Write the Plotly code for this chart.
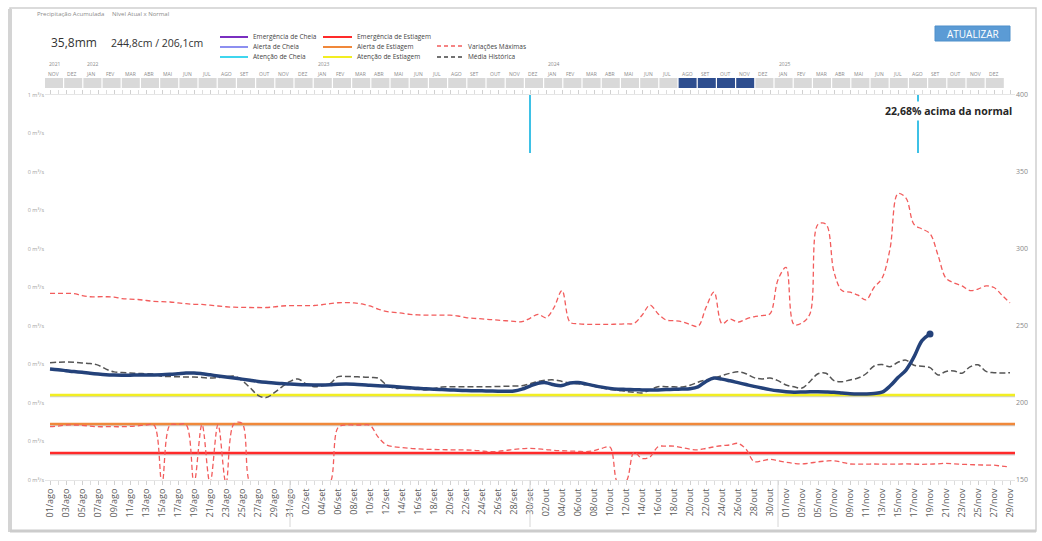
import pandas as pd
import plotly.graph_objects as go

# ---------------- data ----------------
dates = pd.date_range("2024-08-01", "2024-11-29", freq="D")
MESES = ["jan", "fev", "mar", "abr", "mai", "jun", "jul", "ago", "set", "out", "nov", "dez"]
MESES_UP = ["JAN", "FEV", "MAR", "ABR", "MAI", "JUN", "JUL", "AGO", "SET", "OUT", "NOV", "DEZ"]

# Nível do rio (cm) - linha azul
nivel = [222.1, 221.6, 221.0, 220.4, 219.9, 219.3, 218.8, 218.4, 218.2, 218.1,
         218.1, 218.2, 218.2, 218.2, 218.3, 218.6, 219.0, 219.4, 219.5, 219.0,
         218.3, 217.6, 216.9, 216.2, 215.5, 214.8, 214.0, 213.4, 213.0, 212.6,
         212.3, 212.0, 211.8, 211.7, 211.7, 211.9, 212.2, 212.3, 212.2, 211.9,
         211.5, 211.2, 211.0, 210.7, 210.3, 209.9, 209.5, 209.2, 208.9, 208.7,
         208.5, 208.3, 208.1, 208.0, 207.9, 207.8, 207.7, 207.7, 207.8, 209.0,
         211.0, 212.8, 213.2, 211.8, 211.3, 213.0, 213.3, 212.4, 211.3, 210.3,
         209.5, 209.0, 208.8, 208.6, 208.5, 208.4, 208.5, 208.7, 208.9, 209.1,
         209.3, 210.5, 214.0, 216.2, 215.5, 214.4, 213.2, 212.0, 210.8, 209.7,
         208.7, 207.9, 207.3, 207.0, 207.1, 207.3, 207.3, 207.2, 207.0, 206.5,
         206.0, 205.8, 205.9, 206.2, 207.0, 211.0, 216.5, 221.4, 229.9, 240.5,
         244.8]

# Média Histórica (cm)
media_historica = [226.2, 226.5, 226.6, 226.4, 226.0, 225.6, 224.6, 222.0, 220.2, 219.8,
                   219.5, 219.2, 219.0, 218.8, 217.3, 217.2, 217.0, 216.9, 216.9, 216.6,
                   216.2, 216.5, 217.0, 217.5, 214.5, 210.0, 205.0, 203.5, 206.5, 210.5,
                   214.0, 215.6, 212.5, 210.6, 211.2, 212.5, 217.1, 217.2, 217.1, 216.9,
                   216.6, 216.2, 212.0, 209.7, 209.5, 209.2, 208.8, 208.5, 209.4, 210.4,
                   210.6, 210.6, 210.6, 210.5, 210.5, 210.6, 210.7, 210.9, 211.0, 211.2,
                   212.5, 214.0, 214.8, 215.0, 214.0, 213.0, 212.5, 211.8, 210.8, 209.8,
                   208.8, 208.2, 207.5, 207.0, 206.5, 208.5, 210.6, 210.6, 210.5, 210.4,
                   211.5, 213.5, 215.0, 216.3, 217.8, 219.3, 220.3, 219.0, 216.5, 215.6,
                   216.2, 214.5, 211.7, 210.5, 209.7, 214.0, 219.0, 219.3, 214.5, 213.8,
                   215.0, 216.2, 219.0, 224.0, 225.0, 223.6, 226.5, 227.8, 224.5, 223.8,
                   223.0, 218.2, 220.5, 220.8, 219.3, 223.5, 224.8, 220.5, 219.7, 219.5,
                   219.7]

# Variações Máximas (cm) - envelope superior
variacao_sup = [271.2, 271.2, 271.2, 271.0, 269.8, 269.0, 269.0, 269.0, 268.8, 267.8,
                267.5, 267.2, 266.6, 266.0, 265.8, 265.6, 265.0, 264.5, 264.1, 264.0,
                263.5, 263.0, 262.5, 262.2, 262.1, 262.0, 262.0, 262.0, 262.4, 263.0,
                263.2, 263.2, 263.2, 263.3, 263.8, 264.5, 265.1, 265.2, 265.0, 264.3,
                263.0, 261.0, 259.5, 258.9, 258.3, 257.6, 257.2, 257.1, 257.1, 257.1,
                257.0, 256.5, 255.5, 255.0, 254.6, 254.2, 253.8, 253.4, 253.0, 252.8,
                255.0, 257.6, 255.4, 262.0, 273.0, 252.5, 251.5, 251.1, 251.1, 251.1,
                251.1, 251.2, 251.4, 251.7, 257.0, 263.6, 258.0, 253.9, 253.5, 252.8,
                251.0, 249.8, 262.0, 272.0, 251.5, 254.5, 252.5, 254.5, 256.0, 256.8,
                258.0, 280.0, 288.0, 251.0, 252.0, 258.0, 316.0, 316.0, 285.0, 273.0,
                272.0, 270.0, 267.0, 275.0, 281.0, 300.0, 336.0, 333.0, 316.0, 313.0,
                310.0, 296.0, 281.0, 278.0, 276.0, 273.0, 274.0, 276.0, 275.0, 270.0,
                265.0]

# Variações Máximas (cm) - envelope inferior
variacao_inf = [184.6, 185.0, 185.7, 185.7, 185.5, 185.0, 184.6, 184.6, 184.6, 184.6,
                184.8, 185.2, 185.7, 185.7, 148.0, 185.7, 186.0, 186.0, 148.0, 186.0,
                148.0, 186.0, 148.0, 186.5, 186.8, 148.0, 145.0, 145.0, 145.0, 145.0,
                145.0, 145.0, 145.0, 145.0, 145.0, 148.0, 184.0, 185.7, 185.7, 185.7,
                185.5, 178.0, 173.0, 171.6, 171.0, 170.5, 170.2, 169.9, 169.8, 169.7,
                169.6, 169.5, 169.5, 169.3, 168.8, 168.4, 168.6, 169.2, 169.9, 170.3,
                170.6, 170.2, 169.8, 169.3, 169.0, 168.8, 168.6, 168.4, 169.0, 170.6,
                171.4, 148.0, 149.0, 168.0, 164.0, 165.0, 171.6, 172.0, 172.0, 171.0,
                170.0, 169.6, 170.5, 171.5, 172.3, 172.8, 173.8, 170.0, 162.0, 162.5,
                163.4, 162.5, 161.5, 160.8, 160.4, 161.0, 161.8, 162.3, 162.5, 161.5,
                160.4, 160.3, 160.3, 160.4, 160.3, 160.3, 160.3, 160.5, 160.3, 160.2,
                160.3, 160.5, 160.8, 160.5, 160.2, 160.0, 159.8, 159.7, 159.6, 159.0,
                158.6]

# Limiares de estiagem (cm)
limiar_nomes = ["Emergência de Estiagem", "Alerta de Estiagem", "Atenção de Estiagem"]
limiar_valores = [167.5, 186.4, 205.2]
limiar_cores = ["#ff2a2a", "#f0883a", "#f2ee22"]

# marcadores (Atenção de Cheia)
marcas_cheia = ["2024-09-30", "2024-11-17 12:00"]

eixo_dir_ticks = [150, 200, 250, 300, 350, 400]
eixo_esq_ticks = [0, 0.1, 0.2, 0.3, 0.4, 0.5, 0.6, 0.7, 0.8, 0.9, 1.0]
eixo_esq_text = ["0 m³/s"] * 10 + ["1 m³/s"]

precipitacao_txt = "35,8mm"
nivel_txt = "244,8cm / 206,1cm"
anotacao_txt = "22,68% acima da normal"

legenda_col1 = ["Emergência de Cheia", "Alerta de Cheia", "Atenção de Cheia"]
legenda_col1_cores = ["#7a2fc0", "#8d8ff0", "#3fd6ee"]
legenda_col3 = ["Variações Máximas", "Média Histórica"]
legenda_col3_cores = ["#f25c5c", "#444444"]

# linha do tempo (NOV/2021 .. DEZ/2025)
linha_tempo = [(2021, 11), (2021, 12)] + [(a, m) for a in range(2022, 2026) for m in range(1, 13)]
meses_destacados = [(2024, 8), (2024, 9), (2024, 10), (2024, 11)]

FONT = "Open Sans, Noto Sans, sans-serif"

# ---------------- helpers (pixel -> paper) ----------------
L, R, T, B = 45, 1015, 95, 480


def px(x):
    return (x - L) / (R - L)


def py(y):
    return (B - y) / (B - T)


fig = go.Figure()

# thresholds
x_end = dates[0] + pd.Timedelta(hours=120 * 24 + 15)
for nome, v, c in zip(limiar_nomes, limiar_valores, limiar_cores):
    fig.add_trace(go.Scatter(x=[dates[0], x_end], y=[v - 0.7, v - 0.7], mode="lines",
                             line=dict(color="rgba(120,120,120,0.35)", width=2.5),
                             hoverinfo="skip", showlegend=False))
    fig.add_trace(go.Scatter(x=[dates[0], x_end], y=[v, v], mode="lines", name=nome,
                             line=dict(color=c, width=2.6), showlegend=False))

# Variações Máximas
fig.add_trace(go.Scatter(x=dates, y=variacao_sup, mode="lines", name="Variações Máximas",
                         line=dict(color="#f25c5c", width=1.3, dash="5px,3px", shape="spline"),
                         showlegend=False))
fig.add_trace(go.Scatter(x=dates, y=variacao_inf, mode="lines", name="Variações Máximas",
                         line=dict(color="#f25c5c", width=1.3, dash="5px,3px", shape="spline"),
                         showlegend=False))
# Média histórica
fig.add_trace(go.Scatter(x=dates, y=media_historica, mode="lines", name="Média Histórica",
                         line=dict(color="#555555", width=1.5, dash="6px,3px", shape="spline"),
                         showlegend=False))
# Nível
fig.add_trace(go.Scatter(x=dates[:len(nivel)], y=nivel, mode="lines", name="Nível",
                         line=dict(color="#24427a", width=3.5, shape="spline"),
                         showlegend=False))
fig.add_trace(go.Scatter(x=[dates[len(nivel) - 1]], y=[nivel[-1]], mode="markers",
                         marker=dict(color="#24427a", size=7), showlegend=False))
# dummy for left axis
fig.add_trace(go.Scatter(x=[dates[0]], y=[None], yaxis="y2", mode="lines",
                         showlegend=False, hoverinfo="skip"))

shapes = []
annotations = []

# card border
shapes.append(dict(type="rect", xref="paper", yref="paper", x0=px(10), x1=px(1036),
                   y0=py(531), y1=py(8), line=dict(color="#cfcfcf", width=1.5), layer="below"))
shapes.append(dict(type="line", xref="paper", yref="paper", x0=px(10), x1=px(10),
                   y0=py(532), y1=py(9), line=dict(color="#d4d4d4", width=4), layer="below"))
shapes.append(dict(type="line", xref="paper", yref="paper", x0=px(10), x1=px(1036),
                   y0=py(531), y1=py(531), line=dict(color="#cccccc", width=3), layer="below"))

# cyan markers
for m in marcas_cheia:
    shapes.append(dict(type="line", xref="x", yref="paper", x0=m, x1=m, y0=py(153), y1=1.0,
                       line=dict(color="#3ec1e6", width=2)))

# month dividers
for d in ["2024-08-31", "2024-09-30", "2024-10-31"]:
    shapes.append(dict(type="line", xref="x", yref="paper", x0=d, x1=d, y0=0, y1=py(527),
                       line=dict(color="#d6d6d6", width=1)))

# header
annotations.append(dict(text="Precipitação Acumulada", x=px(35), y=py(14), xref="paper", yref="paper",
                        xanchor="left", yanchor="middle", showarrow=False,
                        font=dict(size=6, color="#8a8a8a", family=FONT)))
annotations.append(dict(text="Nível Atual x Normal", x=px(110), y=py(14), xref="paper", yref="paper",
                        xanchor="left", yanchor="middle", showarrow=False,
                        font=dict(size=6, color="#8a8a8a", family=FONT)))
annotations.append(dict(text=precipitacao_txt, x=px(49), y=py(43), xref="paper", yref="paper",
                        xanchor="left", yanchor="middle", showarrow=False,
                        font=dict(size=12, color="#333333", family=FONT)))
annotations.append(dict(text=nivel_txt, x=px(109), y=py(43), xref="paper", yref="paper",
                        xanchor="left", yanchor="middle", showarrow=False,
                        font=dict(size=10.5, color="#333333", family=FONT)))

# legend (manual)
rows = [37, 47, 57]
for nome, c, yy in zip(legenda_col1, legenda_col1_cores, rows):
    shapes.append(dict(type="line", xref="paper", yref="paper", x0=px(220), x1=px(248),
                       y0=py(yy), y1=py(yy), line=dict(color=c, width=2)))
    annotations.append(dict(text=nome, x=px(251), y=py(yy), xref="paper", yref="paper",
                            xanchor="left", yanchor="middle", showarrow=False,
                            font=dict(size=6.5, color="#444444", family=FONT)))
for nome, c, yy in zip(limiar_nomes, limiar_cores, rows):
    shapes.append(dict(type="line", xref="paper", yref="paper", x0=px(323), x1=px(352),
                       y0=py(yy), y1=py(yy), line=dict(color=c, width=2)))
    annotations.append(dict(text=nome, x=px(355), y=py(yy), xref="paper", yref="paper",
                            xanchor="left", yanchor="middle", showarrow=False,
                            font=dict(size=6.5, color="#444444", family=FONT)))
for nome, c, yy in zip(legenda_col3, legenda_col3_cores, [46, 57]):
    shapes.append(dict(type="line", xref="paper", yref="paper", x0=px(437), x1=px(462),
                       y0=py(yy), y1=py(yy), line=dict(color=c, width=1.5, dash="4px,3px")))
    annotations.append(dict(text=nome, x=px(466), y=py(yy), xref="paper", yref="paper",
                            xanchor="left", yanchor="middle", showarrow=False,
                            font=dict(size=6.5, color="#444444", family=FONT)))

# button
shapes.append(dict(type="rect", xref="paper", yref="paper", x0=px(935), x1=px(1010),
                   y0=py(41), y1=py(26), fillcolor="#5b9bd5", line=dict(color="#4f8fca", width=1)))
annotations.append(dict(text="ATUALIZAR", x=px(972.5), y=py(33.5), xref="paper", yref="paper",
                        xanchor="center", yanchor="middle", showarrow=False,
                        font=dict(size=10, color="white", family=FONT)))

# timeline strip
pitch = 19.2
for i, (a, m) in enumerate(linha_tempo):
    x0 = 45 + pitch * i
    destaque = (a, m) in meses_destacados
    shapes.append(dict(type="rect", xref="paper", yref="paper", x0=px(x0), x1=px(x0 + 18),
                       y0=py(88), y1=py(78), fillcolor="#2e4e8f" if destaque else "#d9d9d9",
                       line=dict(width=0)))
    annotations.append(dict(text=MESES_UP[m - 1], x=px(x0 + 1), y=py(73.5), xref="paper", yref="paper",
                            xanchor="left", yanchor="middle", showarrow=False,
                            font=dict(size=5, color="#8a8a8a", family=FONT)))
    if m == 1 or i == 0:
        annotations.append(dict(text=str(a), x=px(x0 + 2), y=py(64), xref="paper", yref="paper",
                                xanchor="left", yanchor="middle", showarrow=False,
                                font=dict(size=5, color="#8a8a8a", family=FONT)))

# note
annotations.append(dict(text="<b>" + anotacao_txt + "</b>", x=px(948), y=py(111), xref="paper",
                        yref="paper", xanchor="center", yanchor="middle", showarrow=False,
                        bgcolor="white", borderpad=2,
                        font=dict(size=10.5, color="#262626", family=FONT)))

tickvals = list(dates[::2])
ticktext = [f"{d.day:02d}/{MESES[d.month - 1]}" for d in dates[::2]]

fig.update_layout(
    width=1042, height=541, autosize=False,
    margin=dict(l=L, r=1042 - R, t=T, b=541 - B),
    paper_bgcolor="white", plot_bgcolor="white",
    showlegend=False,
    font=dict(family=FONT),
    shapes=shapes, annotations=annotations,
    xaxis=dict(type="date",
               range=[dates[0] - pd.Timedelta(hours=15), dates[0] + pd.Timedelta(hours=120 * 24 + 15)],
               tickmode="array", tickvals=tickvals, ticktext=ticktext, tickangle=-90,
               tickfont=dict(size=9, color="#5a5a5a", family=FONT),
               showgrid=False, zeroline=False, showline=True, linecolor="#e6e6e6", mirror="allticks",
               ticks="outside", ticklen=4, tickcolor="#d0d0d0",
               minor=dict(ticks="outside", ticklen=3, tickcolor="#dddddd", tickmode="linear",
                          tick0=dates[0], dtick=86400000)),
    yaxis=dict(range=[150, 400], side="right", tickmode="array", tickvals=eixo_dir_ticks,
               tickfont=dict(size=7, color="#8a8a8a", family=FONT),
               showgrid=False, zeroline=False, showline=False),
    yaxis2=dict(range=[0, 1], overlaying="y", side="left", tickmode="array",
                tickvals=eixo_esq_ticks, ticktext=eixo_esq_text,
                tickfont=dict(size=5.5, color="#a0a0a0", family=FONT),
                showgrid=False, zeroline=False, showline=False),
)

fig.write_html("out.html", config={"displayModeBar": False},
               post_script="document.body.style.margin='0';document.body.style.overflow='hidden';")
